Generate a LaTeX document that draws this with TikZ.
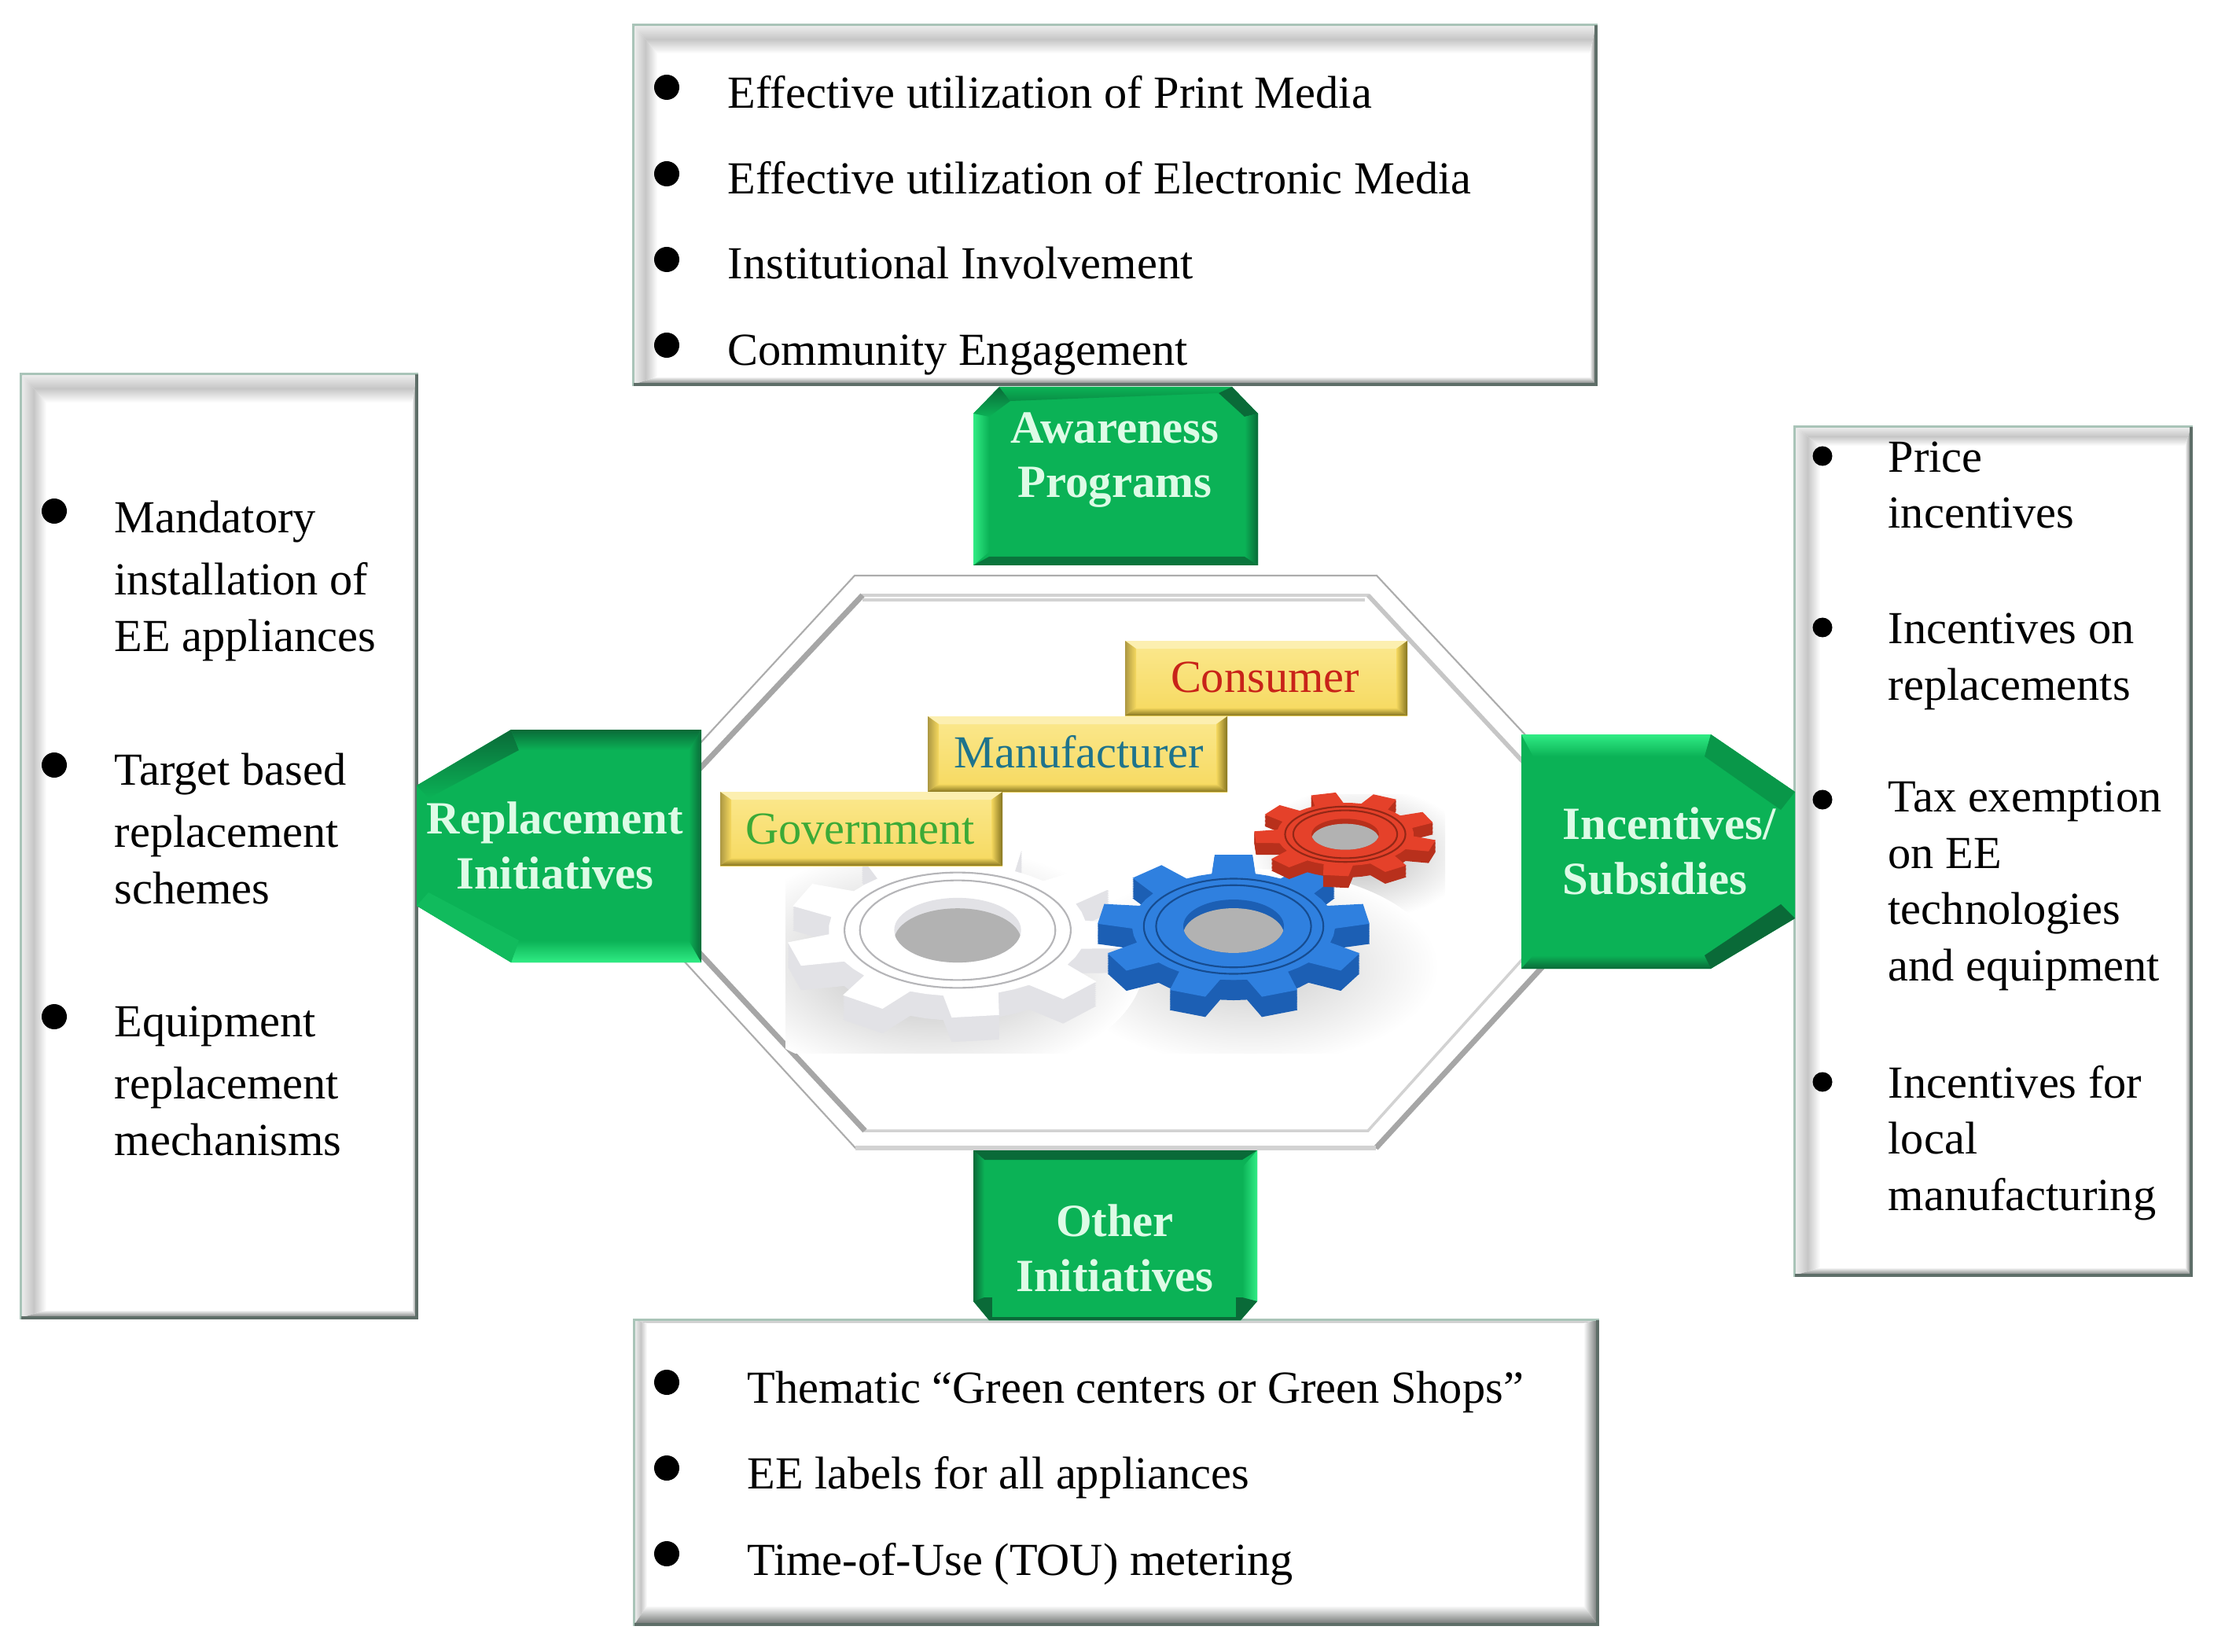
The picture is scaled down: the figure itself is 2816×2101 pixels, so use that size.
\documentclass[tikz,border=0pt]{standalone}
\usepackage{fontspec}
\setmainfont{Liberation Serif}
\definecolor{bevT}{HTML}{C6C6C6}
\definecolor{bevD}{HTML}{6F7371}
\definecolor{frameL}{HTML}{A9C4B8}
\definecolor{frameD}{HTML}{5E6E68}
\definecolor{gBase}{HTML}{0BB256}
\definecolor{gDark}{HTML}{0A6A38}
\definecolor{gLight}{HTML}{30EC84}
\definecolor{gText}{HTML}{DDFBE6}
\definecolor{yBase}{HTML}{F6D95F}
\definecolor{yPale}{HTML}{FBE88E}
\definecolor{yDark}{HTML}{85741F}
\definecolor{whiteSide}{HTML}{E2E2E6}
\definecolor{blueFace}{HTML}{2F80DF}
\definecolor{blueSide}{HTML}{1C5FB4}
\definecolor{redFace}{HTML}{E5412A}
\definecolor{redSide}{HTML}{B8301C}
\tikzset{
  item/.style={anchor=base west,align=left,inner sep=0pt,text=black,
    font=\fontsize{16.6}{20.3}\selectfont},
  bul/.style={circle,fill=black,inner sep=0pt,minimum size=0.32cm},
  bulsmall/.style={bul,minimum size=0.25cm},
  glabel/.style={anchor=base,align=center,inner sep=0pt,text=gText,
    font=\bfseries\fontsize{16.7}{19.9}\selectfont},
  ylabel/.style={anchor=base,inner sep=0pt,font=\fontsize{16.6}{20}\selectfont},
  octthin/.style={line width=0.6pt,line join=miter},
  octthick/.style={gray!70,line width=2pt},
}
% white panel with bevelled edges: x0 y0 x1 y1, widths top left bottom right
\newcommand{\bevelbox}[8]{
  \fill[white,draw=frameL,line width=1pt] (#1,#2) rectangle (#3,#4);
  \shade[top color=bevT!30!white,bottom color=white,middle color=bevT] (#1,#2) -- (#3,#2) -- (#3-#8,#2+#5) -- (#1+#6,#2+#5) -- cycle;
  \shade[left color=bevT!30!white,right color=white,middle color=bevT] (#1,#2) -- (#1+#6,#2+#5) -- (#1+#6,#4-#7) -- (#1,#4) -- cycle;
  \shade[top color=white,bottom color=bevD] (#1,#4) -- (#1+#6,#4-#7) -- (#3-#8,#4-#7) -- (#3,#4) -- cycle;
  \shade[left color=white,right color=bevD] (#3,#2) -- (#3-#8,#2+#5) -- (#3-#8,#4-#7) -- (#3,#4) -- cycle;
  \draw[frameL,line width=0.8pt] (#1,#4) -- (#1,#2) -- (#3,#2);
  \draw[frameD,line width=1pt] (#3,#2) -- (#3,#4) -- (#1,#4);
}
% gold label plate
\newcommand{\goldbox}[4]{
  \shade[top color=yPale,bottom color=yBase] (#1,#2) rectangle (#3,#4);
  \fill[yPale!70!white] (#1,#2) -- (#3,#2) -- (#3-14,#2+10) -- (#1+14,#2+10) -- cycle;
  \shade[left color=yBase!70!black,right color=yBase] (#1,#2) -- (#1+14,#2+10) -- (#1+14,#4-10) -- (#1,#4) -- cycle;
  \shade[top color=yBase,bottom color=yDark] (#1,#4) -- (#1+14,#4-10) -- (#3-14,#4-10) -- (#3,#4) -- cycle;
  \shade[left color=yBase,right color=yDark] (#3,#2) -- (#3-14,#2+10) -- (#3-14,#4-10) -- (#3,#4) -- cycle;
}
% gear outline: teeth, outer radius, root radius, start angle
\newcommand{\gearpath}[4]{
  (#4-180/#1:#3) \foreach \i in {1,...,#1}{
    -- ({#4+(\i-1)*360/#1-0.31*360/#1}:#3)
    -- ({#4+(\i-1)*360/#1-0.20*360/#1}:#2)
    -- ({#4+(\i-1)*360/#1+0.20*360/#1}:#2)
    -- ({#4+(\i-1)*360/#1+0.31*360/#1}:#3)
    -- ({#4+(\i-1)*360/#1+0.50*360/#1}:#3)
  } -- cycle
}
% gear: cx cy yscale router rroot angle side face
\newcommand{\gear}[8]{
  \begin{scope}[shift={(#1,#2)},yscale=#3]
    \foreach \d in {1,...,12}
      \fill[#7,yshift=-\d*#4*0.28/12*0.01cm] \gearpath{9}{#4}{#5}{#6};
    \fill[#8] \gearpath{9}{#4}{#5}{#6};
    \draw[#7!80!black,line width=0.6pt] (0,0) circle ({#4*0.66});
    \draw[#7!80!black,line width=0.6pt] (0,0) circle ({#4*0.57});
    \fill[#7] (0,0) circle ({#4*0.37});
    \begin{scope}
      \clip (0,0) circle ({#4*0.37});
      \fill[gray!60!white] (0,{#4*0.12}) circle ({#4*0.37});
    \end{scope}
  \end{scope}
}
\begin{document}
\begin{tikzpicture}[x=0.01cm,y=-0.01cm]
\useasboundingbox (0,0) rectangle (2816,2101);
% centre octagon: outer and inner outlines, then the heavy edges
\draw[octthin,gray!65] (1087,732) -- (1751,732) -- (2001,1000) -- (2001,1187) -- (1750,1460) -- (1088,1460) -- (845,1195) -- (840,1000) -- cycle;
\draw[octthin,gray!35,line width=1pt] (1097,757) -- (1740,757) -- (1966,1000) -- (1966,1187) -- (1740,1438) -- (1100,1438) -- (874,1195) -- (869,1000) -- cycle;
\draw[octthick] (1097,757) -- (869,1000);
\draw[octthick] (1100,1438) -- (874,1195);
\draw[octthick] (1750,1460) -- (2001,1187);
\draw[gray!45,line width=1.6pt] (1740,757) -- (1966,1000);
\draw[gray!35,line width=1.2pt] (1097,763) -- (1736,763);
\draw[gray!35,line width=1.6pt] (1088,1460) -- (1750,1460);
% soft shadows of the gears
\begin{scope}
  \clip (999,1010) rectangle (1838,1339);
  \shade[inner color=gray!55,outer color=white] (1730,1085) ellipse (140 and 85);
  \shade[inner color=gray!40,outer color=white] (1590,1230) ellipse (240 and 125);
  \shade[inner color=gray!55,outer color=white] (1185,1225) ellipse (270 and 150);
\end{scope}
% gears
\gear{1218}{1183}{0.51}{218}{164}{84}{whiteSide}{white}
\gear{1569}{1178}{0.53}{173}{129}{-90}{blueSide}{blueFace}
\gear{1711}{1061}{0.46}{116}{87}{-104}{redSide}{redFace}
% gold plates
\goldbox{1431}{815}{1790}{910}
\goldbox{1180}{911}{1561}{1007}
\goldbox{916}{1007}{1275}{1101}
\node[ylabel,text={rgb,255:red,200;green,35;blue,25}] (consumer) at (1609,880) {Consumer};
\node[ylabel,text={rgb,255:red,30;green,115;blue,140}] (manufacturer) at (1372,976) {Manufacturer};
\node[ylabel,text={rgb,255:red,60;green,170;blue,55}] (government) at (1094,1073) {Government};
% panels
\bevelbox{806}{32}{2030}{489}{36}{30}{10}{8}
\bevelbox{27}{476}{530}{1676}{36}{32}{10}{6}
\bevelbox{2283}{543}{2787}{1622}{24}{32}{10}{8}
\bevelbox{807}{1679}{2032}{2066}{4}{16}{24}{18}
% green tabs
\fill[gBase] (1238,526) -- (1271,492) -- (1567,492) -- (1600,526) -- (1600,719) -- (1238,719) -- cycle;
\shade[top color=gDark,bottom color=gBase] (1238,526) -- (1271,492) -- (1285,510) -- (1258,530) -- cycle;
\shade[top color=gBase,bottom color=gBase!80!black] (1271,492) -- (1567,492) -- (1550,500) -- (1285,510) -- cycle;
\fill[gDark] (1567,492) -- (1600,526) -- (1583,530) -- (1550,500) -- cycle;
\shade[left color=gLight,right color=gBase] (1238,526) -- (1258,530) -- (1258,702) -- (1238,719) -- cycle;
\shade[left color=gBase,right color=gDark] (1600,526) -- (1583,530) -- (1583,708) -- (1600,719) -- cycle;
\fill[gDark!85!gBase] (1238,719) -- (1258,708) -- (1583,708) -- (1600,719) -- cycle;

\fill[gBase] (530,999) -- (650,928) -- (892,928) -- (892,1224) -- (650,1224) -- (530,1152) -- cycle;
\shade[top color=gDark,bottom color=gBase] (530,999) -- (650,928) -- (660,954) -- (545,1015) -- cycle;
\shade[top color=gDark,bottom color=gBase] (650,928) -- (892,928) -- (876,954) -- (660,954) -- cycle;
\shade[top color=gBase,bottom color=gLight] (660,1196) -- (876,1196) -- (892,1224) -- (650,1224) -- cycle;
\fill[gBase!85!gLight] (530,1152) -- (650,1224) -- (660,1196) -- (545,1135) -- cycle;
\shade[left color=gBase,right color=gDark] (892,928) -- (876,954) -- (876,1196) -- (892,1224) -- cycle;

\fill[gBase] (1935,934) -- (2176,934) -- (2283,1007) -- (2283,1168) -- (2176,1232) -- (1935,1232) -- cycle;
\shade[top color=gLight,bottom color=gBase] (1935,934) -- (2176,934) -- (2168,962) -- (1950,962) -- cycle;
\fill[gBase!85!black] (2176,934) -- (2283,1007) -- (2265,1030) -- (2168,962) -- cycle;
\shade[top color=gBase,bottom color=gDark] (1935,1232) -- (2176,1232) -- (2168,1215) -- (1950,1215) -- cycle;
\fill[gDark] (2176,1232) -- (2283,1168) -- (2265,1150) -- (2168,1215) -- cycle;

\fill[gBase] (1238,1463) -- (1599,1463) -- (1599,1655) -- (1578,1679) -- (1258,1679) -- (1238,1655) -- cycle;
\fill[gDark] (1238,1463) -- (1599,1463) -- (1580,1475) -- (1252,1475) -- cycle;
\shade[left color=gDark,right color=gBase] (1238,1463) -- (1252,1475) -- (1252,1650) -- (1238,1655) -- cycle;
\shade[left color=gBase,right color=gLight] (1599,1463) -- (1580,1485) -- (1580,1650) -- (1599,1655) -- cycle;
\fill[gDark] (1238,1655) -- (1252,1650) -- (1580,1650) -- (1599,1655) -- (1578,1679) -- (1258,1679) -- cycle;
\fill[gBase] (1262,1650) rectangle (1572,1675);
% green tab labels
\node[glabel] (awareness) at (1418,633) {Awareness\\Programs};
\node[glabel] (replacement) at (706,1130) {Replacement\\Initiatives};
\node[glabel,anchor=base west,align=left] (incentives) at (1987,1137) {Incentives/\\Subsidies};
\node[glabel] (other) at (1418,1642) {Other\\Initiatives};
% top list
\node[bul] (ta) at (848,111) {};
\node[bul] (tb) at (848,221) {};
\node[bul] (tc) at (848,330) {};
\node[bul] (td) at (848,439) {};
\node[item] (tta) at (925,138) {Effective utilization of Print Media};
\node[item] (ttb) at (925,247) {Effective utilization of Electronic Media};
\node[item] (ttc) at (925,355) {Institutional Involvement};
\node[item] (ttd) at (925,465) {Community Engagement};
% left list
\node[bul] (la) at (69,650) {};
\node[bul] (lb) at (69,973) {};
\node[bul] (lc) at (69,1293) {};
\node[item] (lta) at (145,828) {Mandatory\\[2.2pt]installation of\\EE appliances};
\node[item] (ltb) at (145,1149) {Target based\\[2.2pt]replacement\\schemes};
\node[item] (ltc) at (145,1469) {Equipment\\[2.2pt]replacement\\mechanisms};
% right list
\node[bulsmall] (ra) at (2318,580) {};
\node[bulsmall] (rb) at (2318,798) {};
\node[bulsmall] (rc) at (2318,1017) {};
\node[bulsmall] (rd) at (2318,1376) {};
\node[item] (rta) at (2401,672) {Price\\incentives};
\node[item] (rtb) at (2401,890) {Incentives on\\replacements};
\node[item] (rtc) at (2401,1247) {Tax exemption\\on EE\\technologies\\and equipment};
\node[item] (rtd) at (2401,1539) {Incentives for\\local\\manufacturing};
% bottom list
\node[bul] (ba) at (848,1758) {};
\node[bul] (bb) at (848,1867) {};
\node[bul] (bc) at (848,1976) {};
\node[item] (bta) at (950,1784) {Thematic “Green centers or Green Shops”};
\node[item] (btb) at (950,1893) {EE labels for all appliances};
\node[item] (btc) at (950,2003) {Time-of-Use (TOU) metering};
\end{tikzpicture}
\end{document}
